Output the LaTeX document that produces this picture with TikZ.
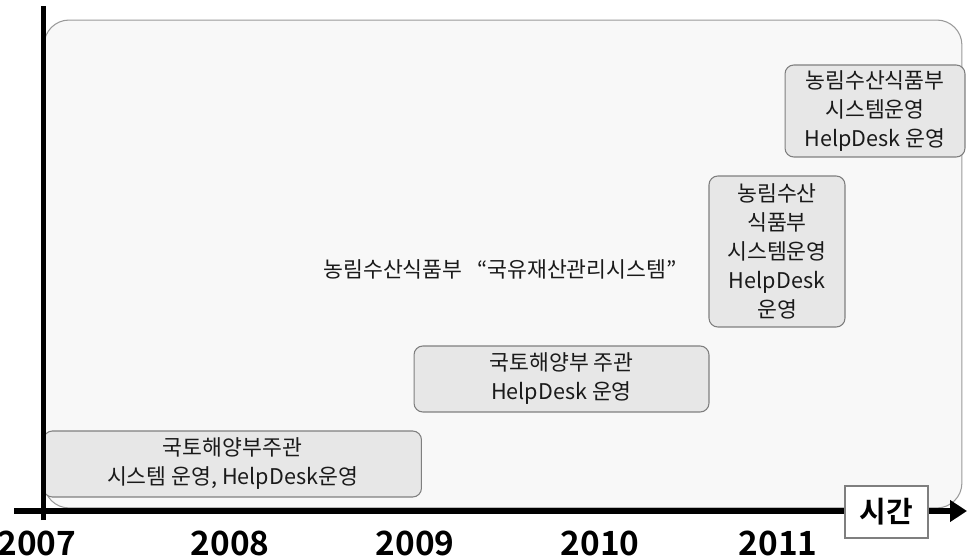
\documentclass[tikz,border=0pt]{standalone}
\usepackage{fontspec}
\setmainfont{Noto Sans CJK KR}[BoldFont={Noto Sans CJK KR Bold}]
\usetikzlibrary{arrows.meta, positioning}
\definecolor{boxFill}{HTML}{E7E7E7}
\definecolor{boxLine}{HTML}{7F7F7F}
\definecolor{areaFill}{HTML}{F8F8F8}
\definecolor{areaLine}{HTML}{9A9A9A}
\definecolor{textDark}{HTML}{1A1A1A}
\tikzset{
  axisline/.style={line width=0.12cm, black},
  axisarrow/.style={line width=0.12cm, black, -{Triangle[length=3.4mm, width=4.2mm]}},
  areabox/.style={rectangle, rounded corners=0.5cm, draw=areaLine, fill=areaFill, line width=0.6pt},
  tlbox/.style={rectangle, rounded corners=5pt, draw=boxLine, fill=boxFill, text=textDark,
                align=center, font=\fontsize{12.3pt}{16.5pt}\selectfont, inner sep=2pt, line width=0.6pt},
  yearlabel/.style={font=\fontsize{19pt}{22pt}\selectfont\bfseries, text=black, inner sep=0pt, anchor=base},
  timebox/.style={rectangle, draw=boxLine, fill=white, font=\fontsize{16.5pt}{20pt}\selectfont\bfseries,
                  minimum width=1.66cm, minimum height=1.04cm, inner sep=0pt, line width=0.6pt},
}
\begin{document}
\begin{tikzpicture}[x=0.02cm, y=-0.02cm]
  \useasboundingbox (0,0) rectangle (970,560);
  % background area
  \node[areabox, minimum width=18.36cm, minimum height=9.76cm] (area) at (503,264) {};
  % time line boxes
  \node[tlbox, minimum width=7.56cm, minimum height=1.32cm] (b07) at (232.5,464)
    {국토해양부주관\\시스템 운영, HelpDesk운영};
  \node[tlbox, minimum width=5.9cm, minimum height=1.32cm] (b09) at (561.5,379)
    {국토해양부 주관\\HelpDesk 운영};
  \node[tlbox, minimum width=2.72cm, minimum height=3.02cm] (b10) at (777,251.5)
    {농림수산\\식품부\\시스템운영\\HelpDesk\\운영};
  \node[tlbox, minimum width=3.6cm, minimum height=1.84cm] (b11) at (875,111)
    {농림수산식품부\\시스템운영\\HelpDesk 운영};
  \node[text=textDark, font=\fontsize{12.3pt}{16.5pt}\selectfont] (title) at (500,269)
    {농림수산식품부~~~“국유재산관리시스템”};
  % axes
  \coordinate (ytop) at (43.5,6);
  \coordinate (ybot) at (43.5,520);
  \coordinate (xleft) at (14,511);
  \coordinate (xright) at (967,511);
  \draw[axisline] (ybot) -- (ytop);
  \draw[axisarrow] (xleft) -- (xright);
  \node[timebox] (time) at (886.5,512) {시간};
  % years
  \foreach \yr/\xx in {2007/37, 2008/230, 2009/415, 2010/600, 2011/778}
    \node[yearlabel] (y\yr) at (\xx,555) {\yr};
\end{tikzpicture}
\end{document}
